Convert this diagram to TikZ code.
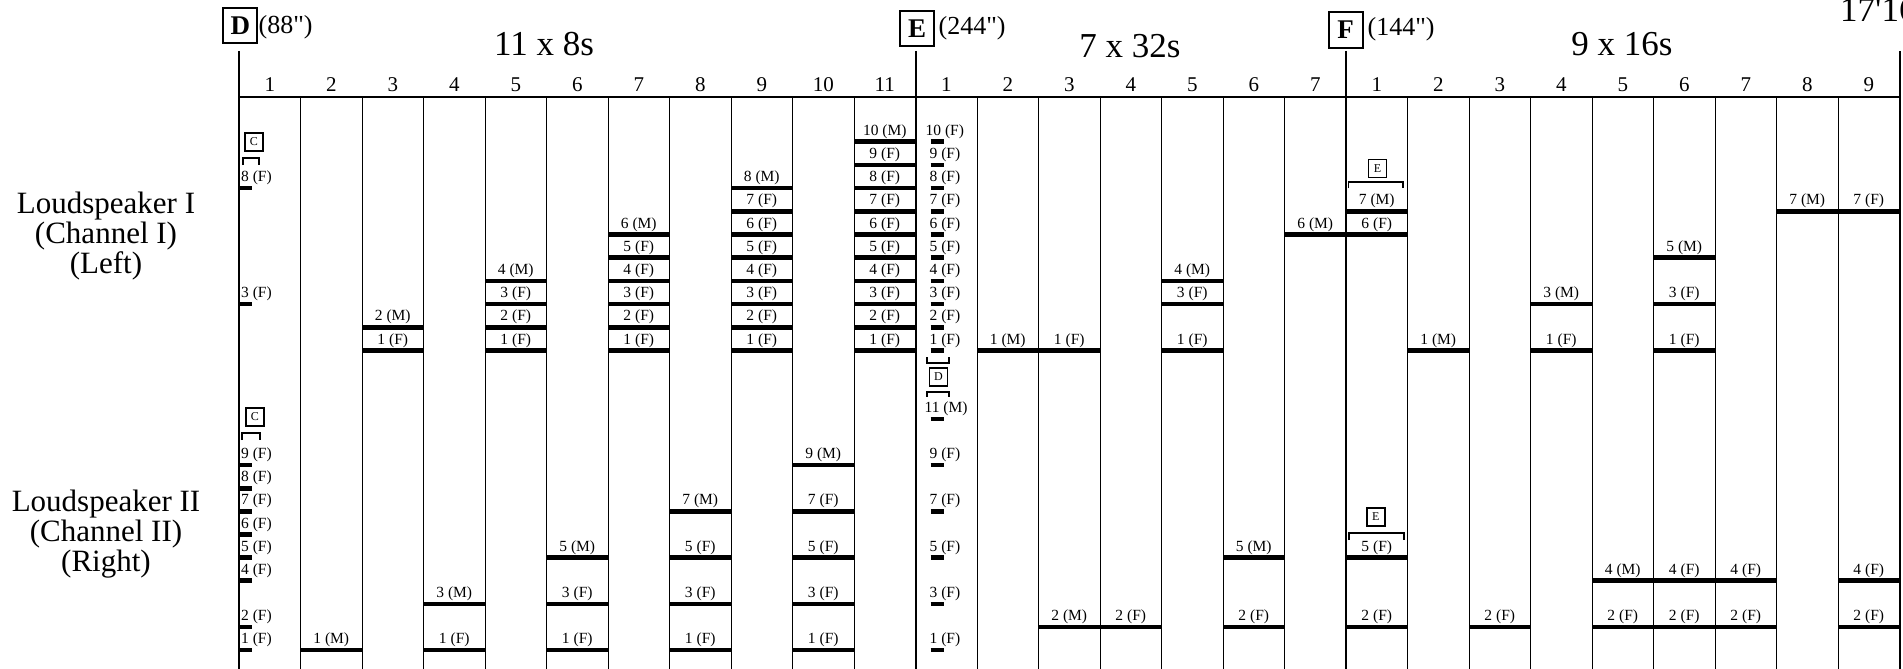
\documentclass[tikz,border=0pt]{standalone}
\usepackage{fontspec}
\newfontfamily\tnr{Liberation Serif}
\tikzset{
  secline/.style={line width=2pt},
  colline/.style={line width=1pt},
  barline/.style={line width=4.5pt},
  brk/.style={line width=1.8pt},
  lbl/.style={font=\tnr\fontsize{15.5}{18}\selectfont, inner sep=0pt},
  colnum/.style={font=\tnr\fontsize{21}{24}\selectfont, inner sep=0pt, anchor=base},
  titletext/.style={font=\tnr\fontsize{35}{40}\selectfont, inner sep=0pt, anchor=base},
  durtext/.style={font=\tnr\fontsize{26}{30}\selectfont, inner sep=0pt, anchor=base west},
  bigbox/.style={draw, line width=2pt, minimum width=34pt, minimum height=35pt, inner sep=0pt, font=\tnr\bfseries\fontsize{27}{30}\selectfont},
  smallbox/.style={draw, line width=1.6pt, minimum width=18pt, minimum height=18pt, inner sep=0pt, font=\tnr\fontsize{12}{14}\selectfont},
  spk/.style={font=\tnr\fontsize{31}{30}\selectfont, inner sep=0pt, anchor=base},
}
\newcommand{\UY}[1]{350.5-23.2*(#1-1)}
\newcommand{\LY}[1]{650-23.1*(#1-1)}
% bar across a column: name, column index, y, label
\newcommand{\br}[4]{%
  \draw[barline] ({239+61.5*(#2)},{#3}) -- ({239+61.5*(#2+1)},{#3});
  \node[lbl, anchor=base] (#1) at ({239+61.5*(#2+0.5)},{#3-6.5}) {#4};
}
% short tick: name, x start, y, label x, label
\newcommand{\tk}[5]{%
  \draw[barline] ({#2},{#3}) -- ({#2+13},{#3});
  \node[lbl, anchor=base west] (#1) at ({#4},{#3-6.5}) {#5};
}
\begin{document}
\begin{tikzpicture}[x=1pt,y=-1pt]
\useasboundingbox (0,0) rectangle (1903,669);
\clip (0,0) rectangle (1903,669);

% grid
\foreach \c in {1,...,10,12,13,...,17,19,20,...,26}
  \draw[colline] ({239+61.5*\c},97) -- ({239+61.5*\c},669);
\foreach \c in {0,11,18,27}
  \draw[secline] ({239+61.5*\c},51) -- ({239+61.5*\c},669);
\draw[secline] (239,97) -- (1899.5,97);

% column numbers
\foreach \i in {1,...,11} \node[colnum] (nD\i) at ({239+61.5*(\i-0.5)},91.5) {\i};
\foreach \i in {1,...,7} \node[colnum] (nE\i) at ({239+61.5*(\i+10.5)},91.5) {\i};
\foreach \i in {1,...,9} \node[colnum] (nF\i) at ({239+61.5*(\i+17.5)},91.5) {\i};

% titles
\node[titletext] (tD) at (544,55.5) {11 x 8s};
\node[titletext] (tE) at (1130,57.5) {7 x 32s};
\node[titletext] (tF) at (1622,55.5) {9 x 16s};
\node[titletext, anchor=base west] (tot) at (1840,21.5) {17'16"};

% section boxes
\node[bigbox] (bD) at (240.3,25.5) {D};
\node[durtext] (dD) at (258.5,33.3) {(88")};
\node[bigbox] (bE) at (917,29) {E};
\node[durtext] (dE) at (938.5,35) {(244")};
\node[bigbox, minimum height=36pt] (bF) at (1345.7,30) {F};
\node[durtext] (dF) at (1367.5,36) {(144")};

% row labels
\node[spk] (s1a) at (106,213.3) {Loudspeaker I};
\node[spk] (s1b) at (106,243.5) {(Channel I)};
\node[spk] (s1c) at (106,273.8) {(Left)};
\node[spk] (s2a) at (106,511.5) {Loudspeaker II};
\node[spk] (s2b) at (106,541.5) {(Channel II)};
\node[spk] (s2c) at (106,571.5) {(Right)};

% ---------- upper (Loudspeaker I) ----------
\node[smallbox] (cU) at (253.8,141.7) {C};
\draw[brk] (243.3,165) -- (243.3,158.3) -- (259,158.3) -- (259,165);
\tk{uD1a}{239}{\UY{8}}{241}{8 (F)}
\tk{uD1b}{239}{\UY{3}}{241}{3 (F)}
\br{uD3m}{2}{\UY{2}}{2 (M)}
\br{uD3f}{2}{\UY{1}}{1 (F)}
\br{uD5m}{4}{\UY{4}}{4 (M)}
\foreach \n in {1,...,3}{\br{uD5f\n}{4}{\UY{\n}}{\n{} (F)}}
\br{uD7m}{6}{\UY{6}}{6 (M)}
\foreach \n in {1,...,5}{\br{uD7f\n}{6}{\UY{\n}}{\n{} (F)}}
\br{uD9m}{8}{\UY{8}}{8 (M)}
\foreach \n in {1,...,7}{\br{uD9f\n}{8}{\UY{\n}}{\n{} (F)}}
\br{uD11m}{10}{\UY{10}}{10 (M)}
\foreach \n in {1,...,9}{\br{uD11f\n}{10}{\UY{\n}}{\n{} (F)}}
\tk{uE1t10}{930.7}{\UY{10}}{925.5}{10 (F)}
\foreach \n in {1,...,9}{\tk{uE1t\n}{930.7}{\UY{\n}}{929.5}{\n{} (F)}}
\br{uE2m}{12}{\UY{1}}{1 (M)}
\br{uE3f}{13}{\UY{1}}{1 (F)}
\br{uE5m}{15}{\UY{4}}{4 (M)}
\br{uE5f3}{15}{\UY{3}}{3 (F)}
\br{uE5f1}{15}{\UY{1}}{1 (F)}
\br{uE7m}{17}{\UY{6}}{6 (M)}
\node[smallbox] (eU) at (1377.6,168.3) {E};
\draw[brk] (1348.4,188.3) -- (1348.4,181.7) -- (1403,181.7) -- (1403,188.3);
\br{uF1m}{18}{\UY{7}}{7 (M)}
\br{uF1f}{18}{\UY{6}}{6 (F)}
\br{uF2m}{19}{\UY{1}}{1 (M)}
\br{uF4m}{21}{\UY{3}}{3 (M)}
\br{uF4f}{21}{\UY{1}}{1 (F)}
\br{uF6m}{23}{\UY{5}}{5 (M)}
\br{uF6f3}{23}{\UY{3}}{3 (F)}
\br{uF6f1}{23}{\UY{1}}{1 (F)}
\br{uF8m}{25}{\UY{7}}{7 (M)}
\br{uF9f}{26}{\UY{7}}{7 (F)}

% E1 middle: bracket, D box, bracket
\draw[brk] (926.7,357.3) -- (926.7,363.3) -- (949.3,363.3) -- (949.3,357.3);
\node[smallbox] (dMid) at (938.5,376.8) {D};
\draw[brk] (926.7,396.7) -- (926.7,391.7) -- (949.3,391.7) -- (949.3,396.7);

% ---------- lower (Loudspeaker II) ----------
\node[smallbox] (cL) at (254.8,417) {C};
\draw[brk] (241.7,440) -- (241.7,433.3) -- (260,433.3) -- (260,440);
\foreach \n in {1,2,4,5,6,7,8,9}{\tk{lD1t\n}{239}{\LY{\n}}{241}{\n{} (F)}}
\br{lD2m}{1}{\LY{1}}{1 (M)}
\br{lD4m}{3}{\LY{3}}{3 (M)}
\br{lD4f}{3}{\LY{1}}{1 (F)}
\br{lD6m}{5}{\LY{5}}{5 (M)}
\br{lD6f3}{5}{\LY{3}}{3 (F)}
\br{lD6f1}{5}{\LY{1}}{1 (F)}
\br{lD8m}{7}{\LY{7}}{7 (M)}
\foreach \n in {1,3,5}{\br{lD8f\n}{7}{\LY{\n}}{\n{} (F)}}
\br{lD10m}{9}{\LY{9}}{9 (M)}
\foreach \n in {1,3,5,7}{\br{lD10f\n}{9}{\LY{\n}}{\n{} (F)}}
\tk{lE1t11}{930.7}{\LY{11}}{924.5}{11 (M)}
\foreach \n in {1,3,5,7,9}{\tk{lE1t\n}{930.7}{\LY{\n}}{929.5}{\n{} (F)}}
\br{lE3m}{13}{\LY{2}}{2 (M)}
\br{lE4f}{14}{\LY{2}}{2 (F)}
\br{lE6m}{16}{\LY{5}}{5 (M)}
\br{lE6f}{16}{\LY{2}}{2 (F)}
\node[smallbox] (eL) at (1375.7,517) {E};
\draw[brk] (1349.3,540) -- (1349.3,533.3) -- (1403.6,533.3) -- (1403.6,540);
\br{lF1f5}{18}{\LY{5}}{5 (F)}
\br{lF1f2}{18}{\LY{2}}{2 (F)}
\br{lF3f}{20}{\LY{2}}{2 (F)}
\br{lF5m}{22}{\LY{4}}{4 (M)}
\br{lF5f}{22}{\LY{2}}{2 (F)}
\br{lF6f4}{23}{\LY{4}}{4 (F)}
\br{lF6f2}{23}{\LY{2}}{2 (F)}
\br{lF7f4}{24}{\LY{4}}{4 (F)}
\br{lF7f2}{24}{\LY{2}}{2 (F)}
\br{lF9f4}{26}{\LY{4}}{4 (F)}
\br{lF9f2}{26}{\LY{2}}{2 (F)}
\end{tikzpicture}
\end{document}
